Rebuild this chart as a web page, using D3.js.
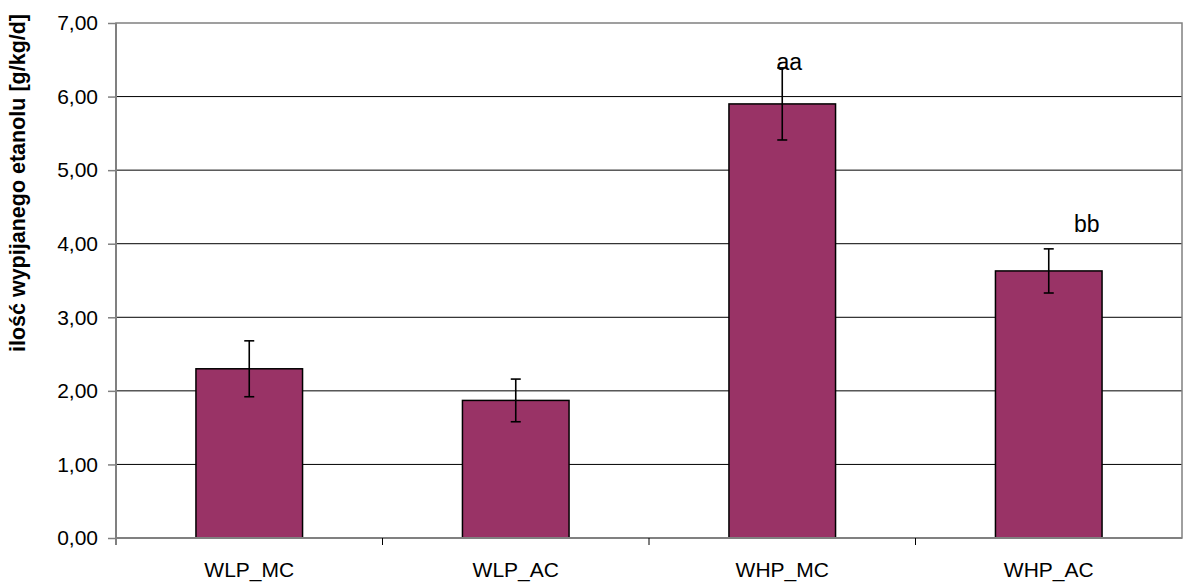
<!DOCTYPE html>
<html>
<head>
<meta charset="utf-8">
<script src="https://cdn.jsdelivr.net/npm/d3@7"></script>
<style>
  html, body { margin: 0; padding: 0; background: #fff; }
  svg { display: block; font-family: "Liberation Sans", Arial, sans-serif; }
</style>
</head>
<body>
<svg id="chart" width="1183" height="583"></svg>
<script>
// Groups and mean ethanol intake with standard error
const categories = ["WLP_MC", "WLP_AC", "WHP_MC", "WHP_AC"];
const means = [2.30, 1.87, 5.90, 3.63];
const errors = [0.38, 0.29, 0.49, 0.30];
const marks = ["", "", "aa", "bb"];
const yTicks = [0, 1, 2, 3, 4, 5, 6, 7];
const yTitle = "ilość wypijanego etanolu [g/kg/d]";

const svg = d3.select("#chart");
const plotL = 116, plotR = 1182, plotT = 23, plotB = 538;

const x = d3.scaleBand().domain(categories).range([plotL, plotR]).padding(0);
const y = d3.scaleLinear().domain([0, 7]).range([plotB, plotT]);
const fmt = v => d3.format(".2f")(v).replace(".", ",");
const barW = x.step() * 0.4;

// Horizontal gridlines
svg.append("g").selectAll("line")
  .data(yTicks.filter(t => t > 0 && t < 7))
  .join("line")
  .attr("x1", plotL).attr("x2", plotR)
  .attr("y1", d => y(d)).attr("y2", d => y(d))
  .attr("stroke", "#000").attr("stroke-width", 1);

// Plot area frame
svg.append("rect")
  .attr("x", plotL).attr("y", plotT)
  .attr("width", plotR - plotL).attr("height", plotB - plotT)
  .attr("fill", "none").attr("stroke", "#808080").attr("stroke-width", 1.5);

// Bars
svg.append("g").selectAll("rect")
  .data(categories)
  .join("rect")
  .attr("x", (d) => x(d) + x.bandwidth() / 2 - barW / 2)
  .attr("width", barW)
  .attr("y", (d, i) => y(means[i]))
  .attr("height", (d, i) => y(0) - y(means[i]))
  .attr("fill", "#993366")
  .attr("stroke", "#000").attr("stroke-width", 1.5);

// Error bars
const eb = svg.append("g").attr("stroke", "#000").attr("stroke-width", 1.6);
categories.forEach((c, i) => {
  const cx = x(c) + x.bandwidth() / 2;
  const hi = y(means[i] + errors[i]), lo = y(means[i] - errors[i]);
  eb.append("line").attr("x1", cx).attr("x2", cx).attr("y1", hi).attr("y2", lo);
  eb.append("line").attr("x1", cx - 5).attr("x2", cx + 5).attr("y1", hi).attr("y2", hi);
  eb.append("line").attr("x1", cx - 5).attr("x2", cx + 5).attr("y1", lo).attr("y2", lo);
});

// Y axis
const yAxis = svg.append("g")
  .attr("transform", `translate(${plotL},0)`)
  .call(d3.axisLeft(y).tickValues(yTicks).tickFormat(fmt).tickSize(8).tickPadding(10));
yAxis.select(".domain").attr("stroke", "#808080").attr("stroke-width", 2)
  .attr("d", `M0,${plotT}V${plotB + 7}`);
yAxis.selectAll(".tick line").attr("stroke", "#808080").attr("stroke-width", 1.5);
yAxis.selectAll(".tick text")
  .attr("font-size", 21).attr("fill", "#000")
  .attr("font-family", "Liberation Sans, Arial, sans-serif");

// X axis: ticks on category boundaries
const xAxis = svg.append("g").attr("transform", `translate(0,${plotB})`);
xAxis.append("line").attr("x1", plotL).attr("x2", plotR)
  .attr("stroke", "#808080").attr("stroke-width", 2);
xAxis.selectAll("line.sep")
  .data(categories.slice(1))
  .join("line").attr("class", "sep")
  .attr("x1", d => x(d)).attr("x2", d => x(d))
  .attr("y1", 0).attr("y2", 7)
  .attr("stroke", "#000").attr("stroke-width", 1);
xAxis.selectAll("text")
  .data(categories)
  .join("text")
  .attr("x", d => x(d) + x.bandwidth() / 2)
  .attr("y", 39)
  .attr("text-anchor", "middle")
  .attr("font-size", 21).attr("fill", "#000")
  .text(d => d);

// Significance marks above bars
const markOffset = [0, 0, 7, 38];
svg.append("g").selectAll("text")
  .data(categories)
  .join("text")
  .attr("x", (d, i) => x(d) + x.bandwidth() / 2 + markOffset[i])
  .attr("y", (d, i) => i === 2 ? y(means[i] + errors[i]) + 2 : y(means[i] + errors[i]) - 17)
  .attr("text-anchor", "middle")
  .attr("font-size", 23).attr("fill", "#000")
  .text((d, i) => marks[i]);

// Y axis title
svg.append("text")
  .attr("transform", "translate(25,183) rotate(-90)")
  .attr("text-anchor", "middle")
  .attr("font-size", 21.5).attr("font-weight", "bold").attr("fill", "#000")
  .text(yTitle);
</script>
</body>
</html>
